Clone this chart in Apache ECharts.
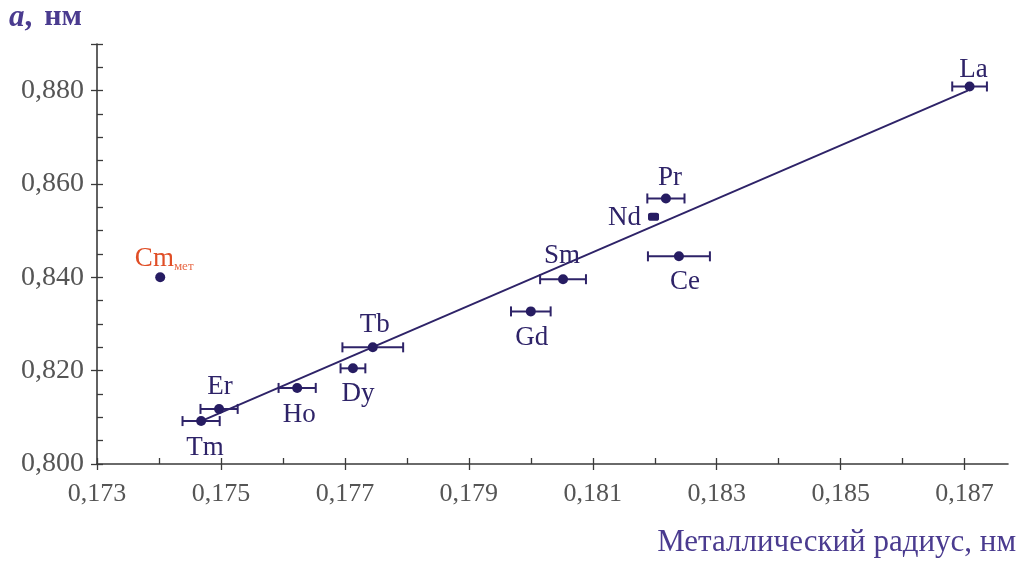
<!DOCTYPE html>
<html>
<head>
<meta charset="utf-8">
<script src="https://cdn.jsdelivr.net/npm/echarts@6/dist/echarts.min.js"></script>
<style>
html,body{margin:0;padding:0;background:#fff;}
#chart{width:1019px;height:572px;}
</style>
</head>
<body>
<div id="chart"></div>
<script>
// ---- data ----
const elements = ['La', 'Pr', 'Nd', 'Ce', 'Sm', 'Gd', 'Tb', 'Dy', 'Ho', 'Er', 'Tm'];
const radius   = [0.18708, 0.18218, 0.18198, 0.18239, 0.18052, 0.18000, 0.17745, 0.17713, 0.17623, 0.17497, 0.17468];
const latticeA = [0.8809, 0.8569, 0.8530, 0.8445, 0.8396, 0.8327, 0.8250, 0.8205, 0.8163, 0.8118, 0.8092];
const radiusErr = [0.00028, 0.00030, 0, 0.00050, 0.00037, 0.00032, 0.00049, 0.00020, 0.00030, 0.00030, 0.00030];
const cmName = 'Cm';
const cmSub = 'мет';
const cmRadius = 0.17402;
const cmA = 0.8400;
const fitX = [0.17468, 0.18705];
const fitY = [0.8092, 0.8800];
const xTicks = [0.173, 0.175, 0.177, 0.179, 0.181, 0.183, 0.185, 0.187];
const yTicks = [0.800, 0.820, 0.840, 0.860, 0.880];
const yTickMarks = [0.800, 0.820, 0.840, 0.860, 0.880, 0.890];
const xTitle = 'Металлический радиус, нм';
const yTitleVar = 'a';
const yTitleComma = ',';
const yTitleUnit = 'нм';

// ---- styling / layout ----
const INK = '#2e2368';
const DOT = '#261c62';
const AXIS = '#3a3a3a';
const GRAY = '#555';
const TITLE = '#4a3b8f';
const FONT = '"Liberation Serif", "DejaVu Serif", serif';
const X_MIN = 0.173, X_MAX = 0.1877, Y_MIN = 0.8, Y_MAX = 0.89;

const placement = {
  La: {position: 'top', offset: [4, 7]},
  Pr: {position: 'top', offset: [4, 3]},
  Nd: {position: 'left', offset: [-2, 1]},
  Ce: {position: 'bottom', offset: [6, 2]},
  Sm: {position: 'top', offset: [-1, 0]},
  Gd: {position: 'bottom', offset: [1, 3]},
  Tb: {position: 'top', offset: [2, 1]},
  Dy: {position: 'bottom', offset: [5, 2]},
  Ho: {position: 'bottom', offset: [2, 3]},
  Er: {position: 'top', offset: [1, 1]},
  Tm: {position: 'bottom', offset: [4, 3]}
};

const fmt = v => Number(v).toFixed(3).replace('.', ',');

const pointData = elements.map((el, i) => {
  const p = placement[el];
  return {
    name: el,
    value: [radius[i], latticeA[i]],
    symbol: el === 'Nd' ? 'roundRect' : 'circle',
    symbolSize: el === 'Nd' ? [11, 8] : 10,
    label: {show: true, formatter: el, position: p.position, offset: p.offset, distance: 5}
  };
});

const errData = elements.map((el, i) => [radius[i], latticeA[i], radiusErr[i]]);

const chart = echarts.init(document.getElementById('chart'), null, {renderer: 'canvas'});

const baseX = {
  type: 'value', min: X_MIN, max: X_MAX, interval: 0.002,
  splitLine: {show: false}
};
const baseY = {
  type: 'value', min: Y_MIN, max: Y_MAX, interval: 0.02,
  splitLine: {show: false}
};

chart.setOption({
  backgroundColor: '#fff',
  animation: false,
  grid: {left: 97, right: 11, top: 44, bottom: 108, containLabel: false},
  xAxis: [
    Object.assign({}, baseX, {
      position: 'bottom',
      axisLine: {show: true, onZero: false, lineStyle: {color: AXIS, width: 1.6}},
      axisTick: {show: true, inside: true, length: 6, customValues: xTicks, lineStyle: {color: AXIS, width: 1.3}},
      minorTick: {show: true, splitNumber: 2, length: 6, lineStyle: {color: AXIS, width: 1.3}},
      axisLabel: {show: true, customValues: xTicks, formatter: fmt, margin: 17,
        fontFamily: FONT, fontSize: 26, color: GRAY}
    }),
    Object.assign({}, baseX, {
      position: 'bottom',
      axisLine: {show: false},
      axisTick: {show: true, inside: false, length: 6, customValues: xTicks, lineStyle: {color: AXIS, width: 1.3}},
      axisLabel: {show: false}
    })
  ],
  yAxis: [
    Object.assign({}, baseY, {
      position: 'left',
      axisLine: {show: true, onZero: false, lineStyle: {color: AXIS, width: 1.6}},
      axisTick: {show: true, inside: true, length: 6, customValues: yTickMarks, lineStyle: {color: AXIS, width: 1.3}},
      minorTick: {show: true, splitNumber: 4, length: 6, lineStyle: {color: AXIS, width: 1.3}},
      axisLabel: {show: true, customValues: yTicks, formatter: fmt, margin: 13,
        fontFamily: FONT, fontSize: 28, color: GRAY}
    }),
    Object.assign({}, baseY, {
      position: 'left',
      axisLine: {show: false},
      axisTick: {show: true, inside: false, length: 6, customValues: yTickMarks, lineStyle: {color: AXIS, width: 1.3}},
      axisLabel: {show: false}
    })
  ],
  graphic: [
    {
      type: 'text', left: 9, top: 2,
      style: {
        text: '{v|' + yTitleVar + '}{c|' + yTitleComma + '}{u|' + yTitleUnit + '}',
        rich: {
          v: {fontFamily: FONT, fontSize: 31, fontStyle: 'italic', fontWeight: 'bold', fill: TITLE},
          c: {fontFamily: FONT, fontSize: 31, fontWeight: 'bold', fill: TITLE},
          u: {fontFamily: FONT, fontSize: 30, fontWeight: 'bold', fill: TITLE, padding: [0, 0, 0, 12]}
        }
      }
    },
    {
      type: 'text', right: 3, top: 527,
      style: {text: xTitle, fontFamily: FONT, fontSize: 31, fill: TITLE}
    }
  ],
  series: [
    {
      type: 'line',
      xAxisIndex: 0, yAxisIndex: 0,
      data: fitX.map((x, i) => [x, fitY[i]]),
      symbol: 'none',
      lineStyle: {color: INK, width: 2},
      z: 2
    },
    {
      type: 'custom',
      xAxisIndex: 0, yAxisIndex: 0,
      data: errData,
      renderItem: function (params, api) {
        const x = api.value(0), y = api.value(1), e = api.value(2);
        if (!e) return null;
        const l = api.coord([x - e, y]);
        const r = api.coord([x + e, y]);
        const h = 5;
        const st = {stroke: INK, lineWidth: 2};
        return {
          type: 'group',
          children: [
            {type: 'line', shape: {x1: l[0], y1: l[1], x2: r[0], y2: r[1]}, style: st},
            {type: 'line', shape: {x1: l[0], y1: l[1] - h, x2: l[0], y2: l[1] + h}, style: st},
            {type: 'line', shape: {x1: r[0], y1: r[1] - h, x2: r[0], y2: r[1] + h}, style: st}
          ]
        };
      },
      z: 3
    },
    {
      type: 'scatter',
      xAxisIndex: 0, yAxisIndex: 0,
      data: pointData,
      itemStyle: {color: DOT, opacity: 1},
      label: {fontFamily: FONT, fontSize: 27, color: INK},
      z: 4
    },
    {
      type: 'scatter',
      xAxisIndex: 0, yAxisIndex: 0,
      data: [{
        name: cmName, value: [cmRadius, cmA],
        label: {
          show: true, position: 'top', offset: [4, 4], distance: 3,
          formatter: '{m|' + cmName + '}{s|' + cmSub + '}',
          rich: {
            m: {fontFamily: FONT, fontSize: 27, color: '#e04e26'},
            s: {fontFamily: FONT, fontSize: 13, color: '#e86a48', verticalAlign: 'bottom', padding: [16, 0, 0, 0]}
          }
        }
      }],
      symbolSize: 10,
      itemStyle: {color: DOT, opacity: 1},
      z: 4
    }
  ]
});
</script>
</body>
</html>
